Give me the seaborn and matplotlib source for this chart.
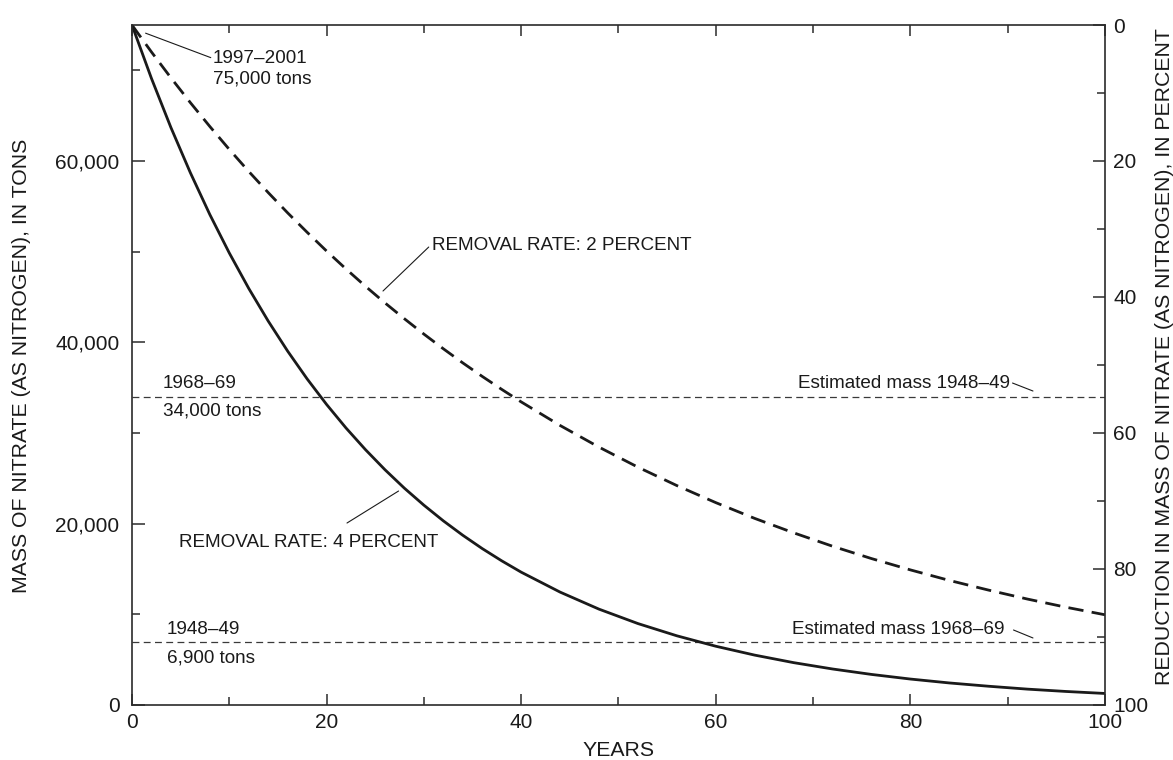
import matplotlib
matplotlib.use("Agg")
import matplotlib.pyplot as plt
import seaborn as sns
import pandas as pd
from matplotlib.ticker import MultipleLocator, FuncFormatter

# Nitrate mass remaining (tons, as nitrogen) over 100 years for two removal rates
years = [0, 2, 4, 6, 8, 10, 12, 14, 16, 18, 20, 22, 24, 26, 28, 30, 32, 34,
         36, 38, 40, 44, 48, 52, 56, 60, 64, 68, 72, 76, 80, 84, 88, 92, 96, 100]
mass_rate_4pct = [75000, 69120, 63700, 58710, 54100, 49860, 45950, 42350,
                  39030, 35970, 33150, 30550, 28160, 25950, 23910, 22040,
                  20310, 18720, 17250, 15900, 14650, 12450, 10570, 8980,
                  7630, 6480, 5500, 4670, 3970, 3370, 2860, 2430, 2070,
                  1750, 1490, 1270]
mass_rate_2pct = [75000, 72030, 69180, 66440, 63810, 61280, 58850, 56520,
                  54280, 52140, 50070, 48090, 46180, 44350, 42600, 40910,
                  39290, 37730, 36240, 34810, 33430, 30830, 28440, 26230,
                  24200, 22320, 20580, 18990, 17510, 16150, 14900, 13740,
                  12680, 11690, 10780, 9950]

# Reference masses
mass_1968_69 = 34000
mass_1948_49 = 6900
mass_1997_2001 = 75000

df = pd.DataFrame({
    "years": years * 2,
    "mass": mass_rate_4pct + mass_rate_2pct,
    "rate": ["4"] * len(years) + ["2"] * len(years),
})

sns.set_theme(style="ticks")
plt.rcParams["font.family"] = ["Liberation Sans", "DejaVu Sans"]

ink = "#1a1a1a"
axis_col = "#2b2b2b"
fs_tick = 15
fs_label = 15.3
fs_note = 13.6

fig = plt.figure(figsize=(11.73, 7.60), dpi=100)
ax = fig.add_axes([0.1125, 0.0724, 0.8295, 0.8947])

sns.lineplot(data=df[df.rate == "4"], x="years", y="mass", ax=ax,
             color=ink, lw=2.0, estimator=None)
sns.lineplot(data=df[df.rate == "2"], x="years", y="mass", ax=ax,
             color=ink, lw=2.0, estimator=None)
ax.lines[1].set_dashes((5.5, 3.0))

for m in (mass_1968_69, mass_1948_49):
    ax.axhline(m, color="#3a3a3a", lw=0.9, dashes=(5.5, 3.5), zorder=1)

ax.set_xlim(0, 100)
ax.set_ylim(0, mass_1997_2001)

ax.xaxis.set_major_locator(MultipleLocator(20))
ax.xaxis.set_minor_locator(MultipleLocator(10))
ax.yaxis.set_major_locator(MultipleLocator(20000))
ax.yaxis.set_minor_locator(MultipleLocator(10000))
ax.yaxis.set_major_formatter(FuncFormatter(lambda v, p: f"{int(v):,}"))

ax.tick_params(axis="x", which="both", direction="in", top=True, bottom=True,
               color=axis_col, labelsize=fs_tick, labelcolor=ink, pad=6)
ax.tick_params(axis="x", which="major", length=8, width=1.1)
ax.tick_params(axis="x", which="minor", length=6, width=1.1)
ax.tick_params(axis="y", which="both", direction="in", left=True, right=False,
               color=axis_col, labelsize=fs_tick, labelcolor=ink, pad=9)
ax.tick_params(axis="y", which="major", length=9, width=1.1)
ax.tick_params(axis="y", which="minor", length=6, width=1.1)

for s in ax.spines.values():
    s.set_visible(True)
    s.set_color(axis_col)
    s.set_linewidth(1.2)

ax.set_xlabel("YEARS", fontsize=fs_label, color=ink)
ax.set_ylabel("MASS OF NITRATE (AS NITROGEN), IN TONS", fontsize=fs_label, color=ink)
ax.xaxis.set_label_coords(0.5, -0.053)
ax.yaxis.set_label_coords(-0.104, 0.4985)

# Secondary axis: percent reduction from the 1997-2001 mass
ax2 = ax.twinx()
ax2.set_ylim(100, 0)
ax2.yaxis.set_major_locator(MultipleLocator(20))
ax2.yaxis.set_minor_locator(MultipleLocator(10))
ax2.tick_params(axis="y", which="both", direction="in", right=True,
                color=axis_col, labelsize=fs_tick, labelcolor=ink, pad=6)
ax2.tick_params(axis="y", which="major", length=9, width=1.1)
ax2.tick_params(axis="y", which="minor", length=6, width=1.1)
for s in ax2.spines.values():
    s.set_visible(False)
ax2.set_ylabel("REDUCTION IN MASS OF NITRATE (AS NITROGEN), IN PERCENT",
               fontsize=fs_label, color=ink)
ax2.yaxis.set_label_coords(1.0515, 0.512)


def leader(x0, y0, x1, y1):
    ax.annotate("", xy=(x0, y0), xytext=(x1, y1),
                arrowprops=dict(arrowstyle="-", shrinkA=0, shrinkB=0,
                                color=ink, lw=0.8))


def note(x, y, s, ha="left"):
    ax.text(x, y, s, fontsize=fs_note, color=ink, ha=ha, va="center")


# Labels and leader lines
note(8.3, 71350, "1997\u20132001")
note(8.3, 69040, "75,000 tons")
leader(1.4, 74100, 8.1, 71400)

note(30.8, 50730, "REMOVAL RATE: 2 PERCENT")
leader(25.8, 45660, 30.5, 50510)

note(4.8, 17870, "REMOVAL RATE: 4 PERCENT")
leader(27.4, 23600, 22.1, 20070)

note(3.2, 35510, "1968\u201369")
note(3.2, 32420, "34,000 tons")
note(3.6, 8380, "1948\u201349")
note(3.6, 5180, "6,900 tons")

note(90.2, 35510, "Estimated mass 1948\u201349", ha="right")
leader(90.5, 35510, 92.6, 34630)
note(89.7, 8380, "Estimated mass 1968\u201369", ha="right")
leader(90.6, 8270, 92.6, 7390)

fig.savefig("out.png", dpi=100)
